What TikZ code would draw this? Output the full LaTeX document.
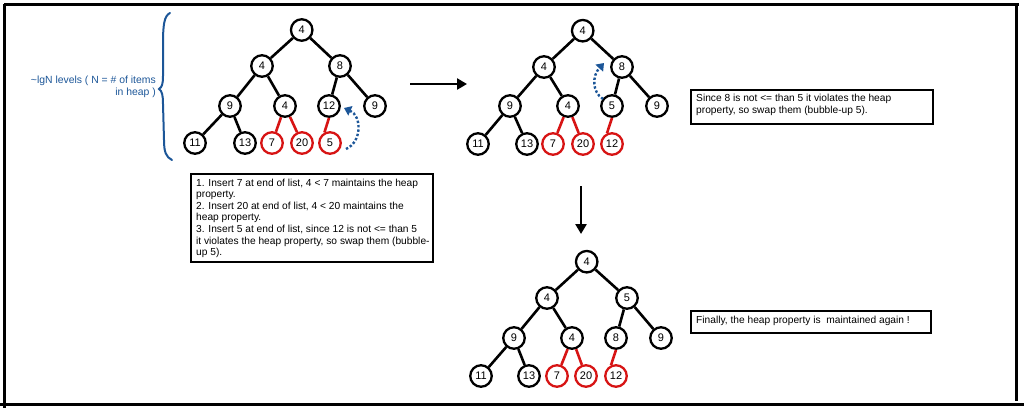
\documentclass[tikz,border=0pt]{standalone}
\usepackage{fontspec}
\setmainfont{Liberation Sans}
\usetikzlibrary{arrows.meta}
\definecolor{noteblue}{RGB}{28,86,152}
\definecolor{heapred}{RGB}{215,20,20}
\tikzset{
  hn/.style={circle, draw=black, line width=2.3pt, minimum size=21.5pt, inner sep=0pt, font=\fontsize{11}{12}\selectfont},
  hnnew/.style={hn, draw=heapred},
  he/.style={line width=2.6pt, black},
  henew/.style={line width=2.6pt, heapred},
  notebox/.style={draw=black, line width=1.8pt, fill=white},
  notetext/.style={anchor=north west, inner sep=0pt, align=left, font=\fontsize{10.2}{11.6}\selectfont},
  swaparc/.style={noteblue, line width=2.4pt, dotted, -{Triangle[length=7pt,width=10pt]}},
  bigarrow/.style={line width=2.6pt, -{Triangle[length=10pt,width=11pt]}},
  frameline/.style={line width=3pt, black}
}
\begin{document}
\begin{tikzpicture}[x=1pt,y=-1pt]
\useasboundingbox (0,0) rectangle (1024,410);

% outer frame
\draw[frameline] (4,4) -- (1019,4);
\draw[frameline] (4,4) -- (4,408);
\draw[frameline] (1016,4) -- (1016,401);
\draw[frameline] (0,404) -- (1024,404);

% height note with brace
\draw[noteblue, line width=2pt, line cap=round]
  (170,13) .. controls (164,16) and (163,25) .. (163,45) -- (163,76)
  .. controls (163,84) and (162,87) .. (159,89)
  .. controls (162,91) and (163,95) .. (163,104) -- (164,140)
  .. controls (164,152) and (166,157) .. (172,160);
\node[anchor=east, align=right, text=noteblue, inner sep=0pt,
      font=\fontsize{10.4}{12.5}\selectfont] (lvl) at (156,87)
  {\textasciitilde lgN levels ( N = \# of items\\in heap )};

% ---------- heap after three inserts ----------
\node[hn] (ar) at (301.7,30) {4};
\node[hn] (aa) at (262,66) {4};
\node[hn] (ab) at (340,66) {8};
\node[hn] (ac) at (230,106) {9};
\node[hn] (ad) at (285,106) {4};
\node[hn] (ae) at (329,106) {12};
\node[hn] (af) at (375,106) {9};
\node[hn] (ag) at (195,143) {11};
\node[hn] (ah) at (245,143) {13};
\node[hnnew] (ai) at (272,143) {7};
\node[hnnew] (aj) at (302,143) {20};
\node[hnnew] (ak) at (330,143) {5};
\draw[he] (ar) -- (aa); \draw[he] (ar) -- (ab);
\draw[he] (aa) -- (ac); \draw[he] (aa) -- (ad);
\draw[he] (ab) -- (ae); \draw[he] (ab) -- (af);
\draw[he] (ac) -- (ag); \draw[he] (ac) -- (ah);
\draw[henew] (ad) -- (ai); \draw[henew] (ad) -- (aj);
\draw[henew] (ae.south) -- (ak.118);
\coordinate (aswapfrom) at (346,149);
\coordinate (aswapto) at (344,108);
\draw[swaparc] (aswapfrom) .. controls (362,142) and (362,116) .. (aswapto);

\node[notebox, minimum width=242pt, minimum height=88pt, anchor=north west, inner sep=0pt] (boxa) at (190,173) {};
\node[notetext] (texta) at (196,178.5)
  {1. Insert 7 at end of list, 4 < 7 maintains the heap\\
   property.\\
   2. Insert 20 at end of list, 4 < 20 maintains the\\
   heap property.\\
   3. Insert 5 at end of list, since 12 is not <= than 5\\
   it violates the heap property, so swap them (bubble-\\
   up 5).};

% arrow to second state
\coordinate (arrAfrom) at (410,84);
\coordinate (arrAto) at (467,84);
\draw[bigarrow] (arrAfrom) -- (arrAto);

% ---------- heap after first swap ----------
\node[hn] (br) at (582.7,30.7) {4};
\node[hn] (ba) at (544,67) {4};
\node[hn] (bb) at (622,67) {8};
\node[hn] (bc) at (510,106) {9};
\node[hn] (bd) at (568,106) {4};
\node[hn] (be) at (612,106) {5};
\node[hn] (bf) at (657,106) {9};
\node[hn] (bg) at (478,144) {11};
\node[hn] (bh) at (527,144) {13};
\node[hnnew] (bi) at (553,144) {7};
\node[hnnew] (bj) at (583,144) {20};
\node[hnnew] (bk) at (612,144) {12};
\draw[he] (br) -- (ba); \draw[he] (br) -- (bb);
\draw[he] (ba) -- (bc); \draw[he] (ba) -- (bd);
\draw[he] (bb) -- (be); \draw[he] (bb) -- (bf);
\draw[he] (bc) -- (bg); \draw[he] (bc) -- (bh);
\draw[henew] (bd) -- (bi); \draw[henew] (bd) -- (bj);
\draw[henew] (be.south) -- (bk.115);
\coordinate (bswapfrom) at (603,99);
\coordinate (bswapto) at (604,63);
\draw[swaparc] (bswapfrom) .. controls (592,92) and (592,76) .. (bswapto);

\node[notebox, minimum width=242pt, minimum height=34pt, anchor=north west, inner sep=0pt] (boxb) at (690,89) {};
\node[notetext] (textb) at (696,94)
  {Since 8 is not <= than 5 it violates the heap\\
   property, so swap them (bubble-up 5).};

% arrow to final state
\coordinate (arrBfrom) at (581,186);
\coordinate (arrBto) at (581,234);
\draw[bigarrow] (arrBfrom) -- (arrBto);

% ---------- final heap ----------
\node[hn] (cr) at (586.7,261.7) {4};
\node[hn] (ca) at (547,298) {4};
\node[hn] (cb) at (627,298) {5};
\node[hn] (cc) at (514,338) {9};
\node[hn] (cd) at (572,338) {4};
\node[hn] (ce) at (616,338) {8};
\node[hn] (cf) at (661,338) {9};
\node[hn] (cg) at (481,376) {11};
\node[hn] (ch) at (529,376) {13};
\node[hnnew] (ci) at (557,376) {7};
\node[hnnew] (cj) at (586,376) {20};
\node[hnnew] (ck) at (616,376) {12};
\draw[he] (cr) -- (ca); \draw[he] (cr) -- (cb);
\draw[he] (ca) -- (cc); \draw[he] (ca) -- (cd);
\draw[he] (cb) -- (ce); \draw[he] (cb) -- (cf);
\draw[he] (cc) -- (cg); \draw[he] (cc) -- (ch);
\draw[henew] (cd) -- (ci); \draw[henew] (cd) -- (cj);
\draw[henew] (ce.south) -- (ck.115);

\node[notebox, minimum width=240pt, minimum height=22pt, anchor=north west, inner sep=0pt] (boxc) at (690,310) {};
\node[notetext] (textc) at (696,315.5)
  {Finally, the heap property is \ maintained again !};
\end{tikzpicture}
\end{document}
